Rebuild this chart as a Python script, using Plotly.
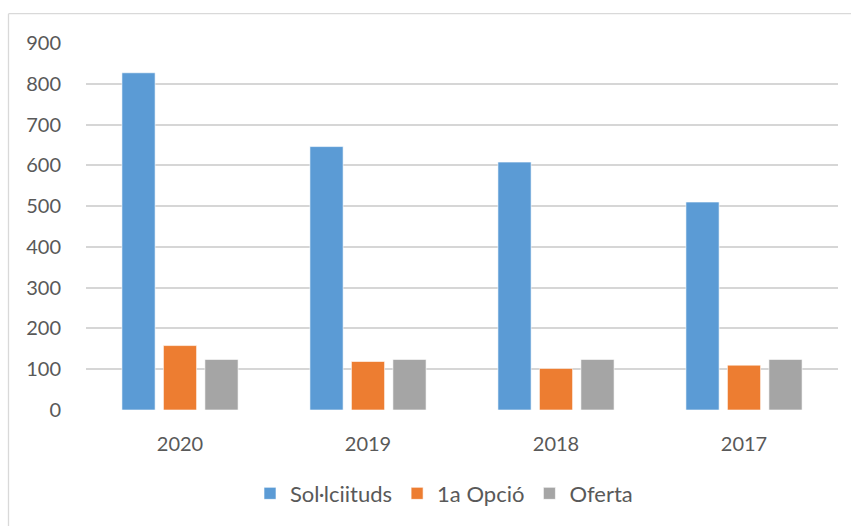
import plotly.graph_objects as go

years = ["2020", "2019", "2018", "2017"]
solicituds = [827, 646, 608, 510]
primera_opcio = [158, 119, 102, 110]
oferta = [124, 124, 124, 124]
series_names = ["Sol·lciituds", "1a Opció", "Oferta"]
colors = ["#5B9BD5", "#ED7D31", "#A5A5A5"]
y_ticks = [0, 100, 200, 300, 400, 500, 600, 700, 800, 900]

FONT = "Lato"
TXT = "#595959"

fig = go.Figure()
for name, vals, col in zip(series_names, [solicituds, primera_opcio, oferta], colors):
    fig.add_trace(go.Bar(
        x=years, y=vals, name=name,
        marker=dict(color=col, line=dict(color="rgba(255,255,255,0.6)", width=1)),
    ))

W, H = 851, 526
L, R, T, B = 86, 13, 43, 114
pw = W - L - R
ph = H - T - B

fig.update_layout(
    width=W, height=H,
    margin=dict(l=L, r=R, t=T, b=B, pad=0),
    paper_bgcolor="white", plot_bgcolor="white",
    barmode="group", bargap=0.338, bargroupgap=0.2,
    font=dict(family=FONT, size=20, color=TXT),
    showlegend=True,
    legend=dict(
        orientation="h", x=(250 - L) / pw, xanchor="left",
        y=(T + ph - 496) / ph, yanchor="middle",
        font=dict(family=FONT, size=22, color=TXT),
        itemclick=False, traceorder="normal",
    ),
    xaxis=dict(
        showgrid=False, showline=False, zeroline=False,
        ticks="", ticklabelstandoff=20,
        tickfont=dict(family=FONT, size=20, color=TXT),
    ),
    yaxis=dict(
        range=[0, 900], tickvals=y_ticks, showgrid=True,
        gridcolor="#d6d6d6", gridwidth=1.6, zeroline=False, showline=False,
        ticks="", ticklabelstandoff=24,
        tickfont=dict(family=FONT, size=20, color=TXT),
    ),
    shapes=[
        dict(type="line", xref="paper", yref="paper",
             x0=(8.5 - L) / pw, x1=(W + 5 - L) / pw,
             y0=1 + (T - 13.5) / ph, y1=1 + (T - 13.5) / ph,
             line=dict(color="#d9d9d9", width=1.3)),
        dict(type="line", xref="paper", yref="paper",
             x0=(8.5 - L) / pw, x1=(8.5 - L) / pw,
             y0=1 + (T - 13.5) / ph, y1=-(B + 5) / ph,
             line=dict(color="#d9d9d9", width=1.3)),
    ],
)

fig.write_html("out.html")
